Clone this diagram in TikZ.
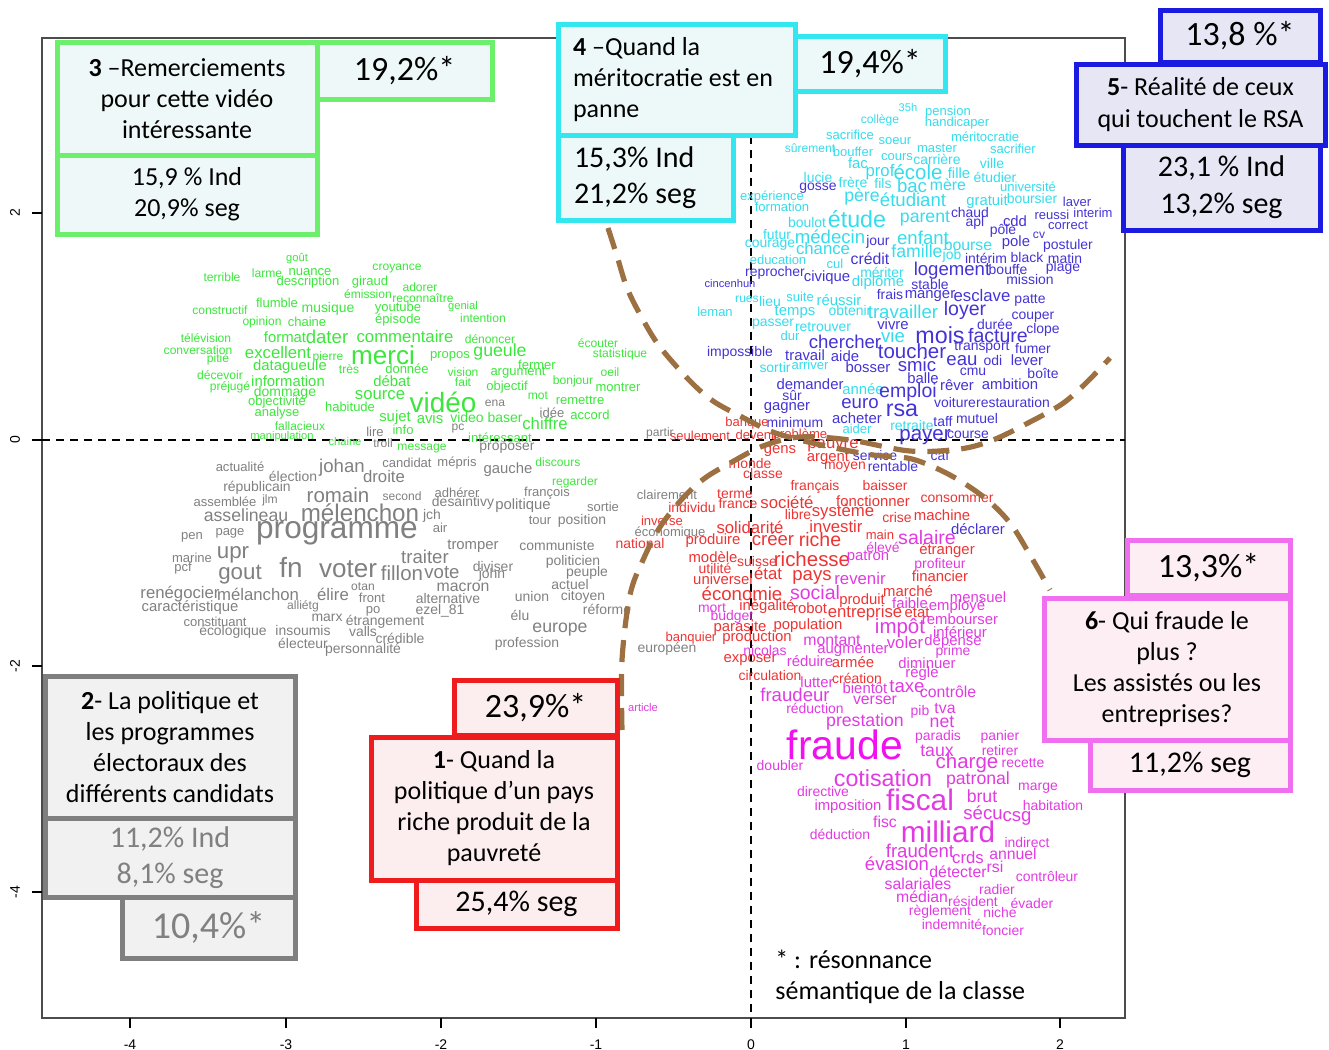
\documentclass[tikz,border=0pt]{standalone}
\usepackage{fontspec}
\setmainfont{Carlito}
\newfontfamily\cloudfont{Liberation Sans}
\usepackage{xcolor}
\usepackage{tikz}
\definecolor{cG}{HTML}{3CE63C}
\definecolor{cK}{HTML}{808080}
\definecolor{cC}{HTML}{35DCEB}
\definecolor{cB}{HTML}{4433D6}
\definecolor{cR}{HTML}{EE3333}
\definecolor{cM}{HTML}{E23AE2}
\definecolor{cF}{HTML}{F010F0}
\definecolor{arcbrown}{HTML}{9C7040}
\definecolor{L3}{HTML}{6CF06C}\definecolor{F3}{HTML}{EEF8F8}
\definecolor{L4}{HTML}{33E6F0}\definecolor{F4}{HTML}{EDF9F9}
\definecolor{L5}{HTML}{1A1AE0}\definecolor{F5}{HTML}{E6E6F5}
\definecolor{L2}{HTML}{7F7F7F}\definecolor{F2}{HTML}{F1F1F1}
\definecolor{L1}{HTML}{EE1C1C}\definecolor{F1}{HTML}{FCEEEE}
\definecolor{L6}{HTML}{F06EF0}\definecolor{F6}{HTML}{FCEEF3}
\tikzset{
  wd/.style={inner sep=0pt, font=\cloudfont\fontsize{\fpeval{0.93*#1}}{\fpeval{0.93*#1}}\selectfont},
  cbox/.style={draw, line width=2.5pt, inner sep=0pt, align=center},
  arc/.style={draw=arcbrown, line width=2.6pt, dash pattern=on 11pt off 6pt},
  axdash/.style={line width=0.6pt, dash pattern=on 4pt off 3pt},
  tick/.style={inner sep=0pt, font=\cloudfont\fontsize{7}{7}\selectfont},
  big/.style={font=\fontsize{17}{20}\selectfont},
  mid/.style={font=\fontsize{15}{18}\selectfont},
  txt/.style={font=\fontsize{13}{15.5}\selectfont}
}
\begin{document}
\begin{tikzpicture}[x=0.5pt, y=-0.5pt]%
\useasboundingbox (0,0) rectangle (1329,1050);%
\draw[line width=0.6pt, draw=black!70] (42,38) rectangle (1125,1018);%
\draw[axdash] (42,440) -- (1125,440);%
\draw[axdash] (751,38) -- (751,1018);%
\foreach \v/\x in {-4/130,-3/286,-2/441,-1/596,0/751,1/906,2/1060} {\draw[line width=0.6pt] (\x,1018) -- (\x,1028); \node[tick] (tx\x) at (\x,1045) {\v};}%
\foreach \v/\y in {2/213,0/440,-2/666,-4/892} {\draw[line width=0.6pt] (42,\y) -- (32,\y); \node[tick, rotate=90] (ty\y) at (15,\y) {\v};}%
\foreach \w/\x/\y/\s [count=\n] in {goût/297/259/6, terrible/222/277/6.5, larme/267/273/6.5, nuance/310/272/7, croyance/397/268/6.5, description/308/282/7, giraud/370/282/7, adorer/420/287/6.5, émission/368/294/6.5, reconnaître/423/298/6.5, constructif/220/310/6.5, flumble/277/303/7, musique/328/309/7.5, youtube/398/308/7, genial/463/307/6, épisode/398/320/7, opinion/262/322/6.5, chaine/307/322/7, intention/483/318/6.5, télévision/206/338/6.5, format/285/337/8, dater/327/337/10, commentaire/405/337/9, dénoncer/490/339/6.5, conversation/198/350/6.5, pitié/218/359/6.5, excellent/278/353/9, pierre/328/357/6.5, merci/383/355/14, propos/450/356/7, gueule/500/352/9.5, fermer/537/365/7, écouter/598/343/6.5, statistique/620/354/6.5, décevoir/220/375/6.5, datagueule/290/367/8, très/349/369/6.5, donnée/407/369/7, vision/463/372/6.5, argument/518/373/7, oeil/610/372/6.5, préjugé/230/387/6.5, information/288/381/8, débat/392/381/8, fait/463/382/6.5, bonjour/573/381/6.5, montrer/618/387/7, objectif/507/387/7, dommage/285/393/7.5, source/380/395/9, mot/538/396/6.5, remettre/580/400/7, objectivité/277/402/7, habitude/350/407/7, analyse/277/413/7, vidéo/443/402/15, sujet/395/418/8, avis/430/418/8, video/467/418/7.5, baser/505/418/7.5, accord/590/415/7, fallacieux/300/426/6.5, info/403/430/7, chiffre/545/424/9, manipulation/282/437/6, chaine/345/442/6, intéressant/500/438/7, message/422/448/6.5, discours/558/462/6.5, regarder/575/482/6.5}%
  \node[wd=\s, text=cG] (g\n) at (\x,\y) {\w};%
\foreach \w/\x/\y/\s [count=\n] in {ena/495/403/6.5, idée/552/413/7, lire/375/432/7, pc/458/428/6.5, troll/383/443/6.5, proposer/507/448/7.5, partir/660/433/6.5, actualité/240/467/7, élection/293/476/7.5, johan/342/468/10, droite/384/477/9, candidat/407/463/7, mépris/457/463/7, gauche/508/470/8, républicain/257/488/7.5, assemblée/225/502/7, jlm/270/500/6.5, romain/338/495/11, second/402/496/6.5, adhérer/457/493/7, françois/547/493/7, clairement/667/495/7, desaintivy/463/503/7.5, politique/523/506/8, sortie/603/507/7, asselineau/246/515/9.5, mélenchon/360/513/13, jch/432/516/7.5, tour/540/520/7, position/582/521/7.5, économique/670/533/7, air/440/528/7, pen/192/537/7, page/230/533/7, programme/337/533/17, tromper/473/546/8, communiste/557/546/7.5, marine/192/558/7, upr/233/555/12, pcf/183/568/7, gout/240/575/12, fn/291/567/15, voter/348/569/14, traiter/425/557/10, fillon/402/573/11, vote/442/573/10, diviser/493/567/7.5, john/492/575/7.5, politicien/573/562/7.5, peuple/587/573/7.5, renégocier/180/594/9, mélanchon/258/594/9, élire/333/594/9, otan/363/587/6.5, front/372/598/7, macron/463/587/8.5, actuel/570/585/7.5, caractéristique/190/608/8, alliétg/303/606/6.5, po/373/611/7, alternative/448/599/7.5, union/532/597/7.5, citoyen/583/597/7.5, marx/327/618/7.5, étrangement/385/622/7.5, ezel\_81/440/611/7.5, élu/520/615/7.5, réforme/607/609/7.5, constituant/215/622/7, écologique/233/632/7.5, insoumis/303/631/7.5, valls/363/632/7.5, crédible/400/638/7.5, europe/560/630/9.5, électeur/303/643/7.5, personnalité/363/650/7.5, profession/527/644/7.5, européen/667/649/7.5}%
  \node[wd=\s, text=cK] (k\n) at (\x,\y) {\w};%
\foreach \w/\x/\y/\s [count=\n] in {35h/908/108/6, pension/948/112/7, collège/880/120/6.5, handicaper/957/123/7, sacrifice/850/135/7, soeur/895/141/7, méritocratie/985/137/7, sûrement/810/148/6.5, bouffer/853/152/7, master/937/148/7, sacrifier/1013/149/7, cours/897/157/7, carrière/937/159/7.5, fac/858/163/8, ville/992/164/7.5, prof/880/172/9, école/918/172/11, fille/959/173/8, étudier/995/177/7.5, lucie/818/178/7.5, frère/853/182/7.5, fils/883/184/7.5, bac/912/186/10, mère/948/185/8.5, université/1028/187/7, expérience/772/197/7, père/862/197/9.5, étudiant/913/200/10, gratuit/987/202/8, boursier/1032/199/7.5, formation/782/207/7, étude/857/219/12.5, parent/925/219/9.5, boulot/807/223/7.5, futur/777/235/7.5, médecin/830/237/10, enfant/923/238/10, bourse/968/245/8.5, courage/770/245/7.5, chance/823/249/9, famille/917/251/9.5, job/952/256/7.5, education/778/260/7, cul/835/264/7, mériter/882/272/7.5, diplôme/878/283/8, rues/747/299/6.5, lieu/770/302/7.5, suite/800/297/7, réussir/839/300/8, leman/715/312/7, temps/795/312/8, obtenir/850/311/7.5, travailler/903/312/10, passer/773/324/7.5, retrouver/823/327/7.5, dur/790/336/7, vie/893/336/10, sortir/775/368/7.5, arriver/810/365/7, année/863/389/8, aider/857/429/7, retraite/912/426/7.5}%
  \node[wd=\s, text=cC] (c\n) at (\x,\y) {\w};%
\foreach \w/\x/\y/\s [count=\n] in {gosse/818/188/7.5, laver/1077/202/7, chaud/970/213/7.5, apl/975/223/7.5, cdd/1015/221/8, reussi/1052/215/7, interim/1093/213/7, correct/1068/225/7, pôle/1003/231/7.5, cv/1039/235/6.5, jour/878/242/7.5, pole/1016/243/8, postuler/1068/246/7.5, intérim/986/258/7.5, black/1027/258/7.5, matin/1065/259/7.5, crédit/870/259/8.5, reprocher/775/273/7.5, logement/952/271/10, bouffe/1008/270/7.5, plage/1063/268/7.5, cincenhun/730/284/6, civique/827/278/8, stable/930/285/7.5, mission/1030/280/7.5, frais/890/295/7.5, manger/930/296/8, esclave/982/296/9, patte/1030/300/7.5, loyer/965/310/10.5, vivre/893/324/8, durée/995/324/7.5, couper/1033/317/7.5, clope/1043/330/7.5, chercher/845/342/10, mois/940/335/12.5, facture/998/336/10.5, transport/982/347/7.5, fumer/1033/349/7.5, impossible/740/353/7.5, travail/805/355/8, aide/845/356/8, toucher/912/351/11, eau/962/361/10, odi/993/361/7.5, lever/1027/360/8, bosser/868/367/8, smic/917/365/10, cmu/973/372/7.5, boîte/1043/373/7.5, balle/923/378/8, demander/810/384/8, emploi/908/392/10.5, rêver/957/385/8, ambition/1010/384/8, sûr/792/395/7.5, euro/860/404/10, rsa/902/410/12.5, gagner/787/408/8, voiture/955/403/7.5, restauration/1013/403/7.5, acheter/857/418/8, minimum/795/423/7.5, taff/943/422/7.5, mutuel/977/419/7.5, payer/925/437/11, course/968/435/7.5, service/875/456/7.5, caf/940/456/7.5, rentable/893/467/7.5, déclarer/978/529/8}%
  \node[wd=\s, text=cB] (b\n) at (\x,\y) {\w};%
\foreach \w/\x/\y/\s [count=\n] in {banque/747/423/7, seulement/700/436/7, devenir/757/435/7, problème/800/435/7, pauvre/833/446/9, gens/780/451/8, argent/828/458/8, moyen/845/467/7.5, monde/750/464/7.5, classe/763/474/7.5, français/815/487/7.5, baisser/885/486/7.5, terme/735/494/7.5, france/738/504/7.5, société/787/502/9, fonctionner/873/501/8, consommer/957/499/7.5, individu/692/508/7.5, libre/798/515/7.5, système/843/512/9, crise/897/518/7.5, machine/942/515/8, inverse/662/521/7, solidarité/750/527/9, investir/836/527/9, national/640/544/7.5, produire/713/541/8, créer/773/539/10, riche/820/540/10.5, main/880/535/7, étranger/947/551/8, modèle/713/557/8, suisse/757/562/7.5, richesse/812/559/11, utilité/715/568/7.5, état/768/573/9, pays/812/577/10, financier/940/576/8, universel/723/579/8, économie/742/594/10, marché/908/591/8, produit/862/601/8, inégalité/767/607/8, robot/810/608/8, entreprise/865/613/9, etat/917/613/8, parasite/740/628/8, population/808/626/8, banquier/691/638/7, production/757/638/8, exposer/750/660/8, armée/853/662/8, circulation/770/676/7.5, création/857/678/7.5}%
  \node[wd=\s, text=cR] (r\n) at (\x,\y) {\w};%
\foreach \w/\x/\y/\s [count=\n] in {salaire/927/538/10.5, élevé/883/547/7.5, patron/868/557/8, profiteur/940/565/7.5, revenir/860/579/9, social/815/593/10.5, mensuel/978/597/8, faible/910/603/8, employé/957/607/8, mort/712/608/7.5, rembourser/960/619/8, budget/732/617/7.5, impôt/900/628/11, inférieur/960/632/8, montant/832/640/8.5, voler/905/643/9, dépense/953/642/8, prime/953/652/7.5, nicolas/765/651/7.5, augmenter/853/650/8, réduire/810/661/8, diminuer/927/663/8, règle/922/674/8, lutter/817/682/8, bientôt/865/688/8, taxe/907/687/10, contrôle/948/692/8.5, fraudeur/795/695/10, verser/875/700/8.5, article/643/708/6, réduction/815/708/7.5, pib/920/712/7.5, tva/945/708/8.5, prestation/865/722/9.5, net/942/722/9.5, paradis/938/737/7.5, panier/1000/737/7.5, taux/937/751/9.5, retirer/1000/751/7.5, doubler/780/766/7.5, charge/967/763/11, recette/1023/763/7.5, cotisation/883/778/12.5, patronal/978/780/9.5, directive/823/792/7.5, marge/1038/788/7.5, fiscal/920/800/16, brut/982/796/9.5, imposition/848/807/8, habitation/1053/806/7.5, sécu/983/813/10, csg/1017/818/10, fisc/885/822/8.5, milliard/948/832/16, déduction/840/834/7.5, indirect/1027/843/7.5, fraudent/920/851/10, crds/968/858/9, annuel/1013/854/8.5, évasion/897/864/10, détecter/958/872/8.5, rsi/995/867/8.5, contrôleur/1047/876/7.5, salariales/918/884/8.5, radier/997/890/7.5, médian/922/897/8.5, résident/973/901/7.5, évader/1032/903/7.5, règlement/940/912/7.5, niche/1000/913/7.5, indemnité/952/924/7.5, foncier/1003/931/7.5}%
  \node[wd=\s, text=cM] (m\n) at (\x,\y) {\w};%
\node[wd=22, text=cF] (fraude) at (845,745) {fraude};%
\draw[arc] plot[smooth, tension=0.55] coordinates {(608,228) (617,256) (627,288) (642,318) (660,347) (690,381) (713,401) (742,417) (770,431) (800,440) (835,448) (873,455) (912,459) (950,475) (985,498) (1010,523) (1030,555) (1050,590)};%
\draw[arc] plot[smooth, tension=0.55] coordinates {(622,730) (622,660) (630,595) (643,560) (660,527) (683,498) (705,478) (732,462) (763,446) (800,437) (850,440) (910,451) (960,449) (993,440) (1028,423) (1062,404) (1085,384) (1110,358)};%
\node[cbox, draw=L3, fill=F3, txt, minimum width=130pt, minimum height=56.5pt] (c3a) at (187,98.5) {\textbf{3} –Remerciements\\pour cette vidéo\\intéressante};%
\node[cbox, draw=L3, fill=F3, txt, minimum width=130pt, minimum height=39.5pt] (c3b) at (187,194.5) {15,9 \% Ind\\20,9\% seg};%
\node[cbox, draw=L3, fill=F3, big, minimum width=87.5pt, minimum height=28.5pt] (c3c) at (404.5,70.5) {19,2\%*};%
\node[cbox, draw=L4, fill=F4, txt, align=flush left, inner xsep=7.5pt, text width=103.5pt, minimum width=118.5pt, minimum height=55.5pt] (c4a) at (676.5,79.5) {\textbf{4} –Quand la\\méritocratie est en\\panne};%
\node[cbox, draw=L4, fill=F4, mid, align=flush left, inner xsep=8pt, text width=71.5pt, minimum width=87.5pt, minimum height=42.5pt] (c4b) at (645.5,177.5) {15,3\% Ind\\21,2\% seg};%
\node[cbox, draw=L4, fill=F4, big, minimum width=75pt, minimum height=27.5pt] (c4c) at (870,63.5) {19,4\%*};%
\node[cbox, draw=L5, fill=F5, big, minimum width=80pt, minimum height=26pt] (c5c) at (1240,36) {13,8 \%*};%
\node[cbox, draw=L5, fill=F5, font=\fontsize{13}{16}\selectfont, minimum width=124.5pt, minimum height=40.5pt] (c5a) at (1200.5,104.5) {\textbf{5}- Réalité de ceux\\qui touchent le RSA};%
\node[cbox, draw=L5, fill=F5, font=\fontsize{15}{18.5}\selectfont, minimum width=98.5pt, minimum height=42.5pt] (c5b) at (1221.5,187.5) {23,1 \% Ind\\13,2\% seg};%
\node[cbox, draw=L2, fill=F2, txt, minimum width=125pt, minimum height=71pt] (c2a) at (170,747) {\textbf{2}- La politique et\\les programmes\\électoraux des\\différents candidats};%
\node[cbox, draw=L2, fill=F2, mid, text=cK, minimum width=125pt, minimum height=39.5pt] (c2b) at (170,857.5) {11,2\% Ind\\8,1\% seg};%
\node[cbox, draw=L2, fill=F2, font=\fontsize{19}{22}\selectfont, text=cK, minimum width=86.5pt, minimum height=30.5pt] (c2c) at (208.5,927.5) {10,4\%*};%
\node[cbox, draw=L1, fill=F1, big, minimum width=81.5pt, minimum height=27.5pt] (c1c) at (535.5,707.5) {23,9\%*};%
\node[cbox, draw=L1, fill=F1, txt, minimum width=123pt, minimum height=71.5pt] (c1a) at (494,808.5) {\textbf{1}- Quand la\\politique d’un pays\\riche produit de la\\pauvreté};%
\node[cbox, draw=L1, fill=F1, mid, minimum width=100.5pt, minimum height=24pt] (c1b) at (516.5,904) {25,4\% seg};%
\node[cbox, draw=L6, fill=F6, big, minimum width=81.5pt, minimum height=27.5pt] (c6c) at (1208.5,567.5) {13,3\%*};%
\node[cbox, draw=L6, fill=F6, txt, minimum width=123pt, minimum height=71pt] (c6a) at (1167,669) {\textbf{6}- Qui fraude le\\plus ?\\Les assistés ou les\\entreprises?};%
\node[cbox, draw=L6, fill=F6, mid, minimum width=100pt, minimum height=25pt] (c6b) at (1190,765) {11,2\% seg};%
\node[txt, align=left, anchor=west, inner sep=0pt] (note) at (775,977) {* : résonnance\\sémantique de la classe};%
\end{tikzpicture}
\end{document}
